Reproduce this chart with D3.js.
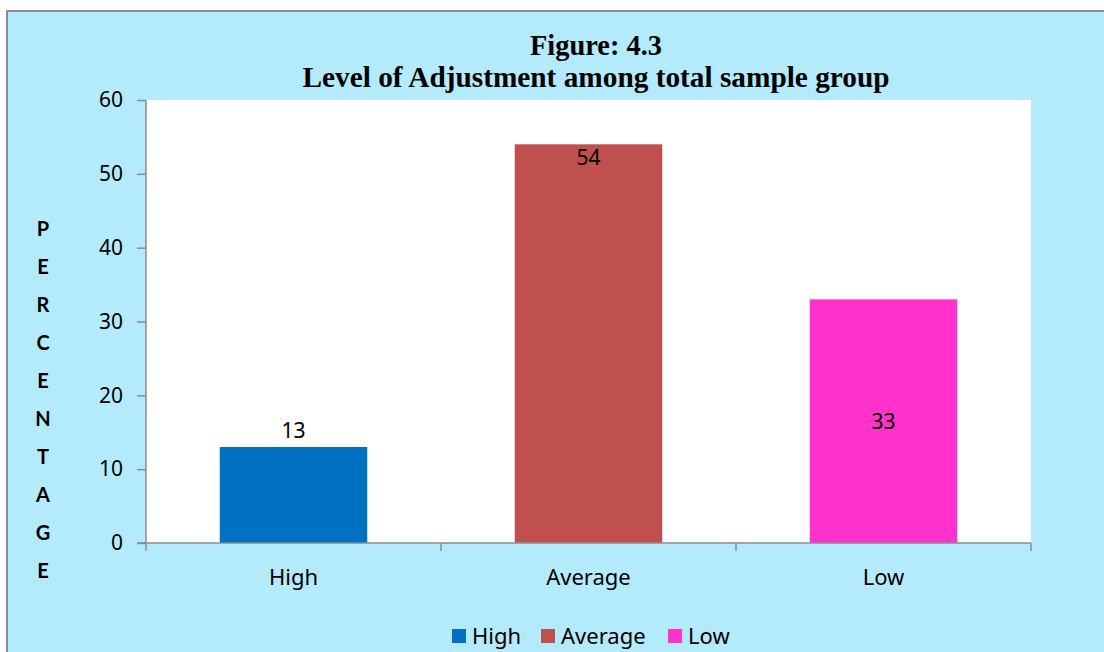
<!DOCTYPE html>
<meta charset="utf-8">
<script src="https://d3js.org/d3.v7.min.js"></script>
<style>
  body { margin: 0; background: #fff; }
  text { fill: #000; }
</style>
<svg id="chart" width="1104" height="652"></svg>
<script>

// Data
var categories = ["High", "Average", "Low"];
var values = [13, 54, 33];
var colors = ["#0070C0", "#C0504D", "#FF33CC"];
var yTicks = [0, 10, 20, 30, 40, 50, 60];
var titleLines = ["Figure: 4.3", "Level of Adjustment among total sample group"];
var yTitle = "PERCENTAGE";

var font = "'Noto Sans', Lato, sans-serif";
var svg = d3.select("#chart");

// Outer chart box
svg.append("rect")
    .attr("x", 7).attr("y", 11)
    .attr("width", 1110).attr("height", 660)
    .attr("fill", "#B4EBFC")
    .attr("stroke", "#8c8c8c")
    .attr("stroke-width", 2);

// Plot area
var margin = {left: 146, top: 100, right: 1031, bottom: 543};

svg.append("rect")
    .attr("x", margin.left).attr("y", margin.top)
    .attr("width", margin.right - margin.left)
    .attr("height", margin.bottom - margin.top)
    .attr("fill", "#fff");

var x = d3.scaleBand()
    .domain(categories)
    .range([margin.left, margin.right])
    .paddingInner(0.5)
    .paddingOuter(0.25);

var xCat = d3.scaleBand()
    .domain(categories)
    .range([margin.left, margin.right]);

var y = d3.scaleLinear()
    .domain([0, 60])
    .range([margin.bottom, margin.top]);

// Bars
svg.append("g")
  .selectAll("rect")
  .data(values)
  .enter()
  .append("rect")
    .attr("x", function(d, i){ return x(categories[i]) })
    .attr("y", function(d){ return y(d) })
    .attr("width", x.bandwidth())
    .attr("height", function(d){ return y(0) - y(d) })
    .attr("fill", function(d, i){ return colors[i] });

// Data labels: outside end, inside end, centre (as in the original)
var labelY = [
  function(d){ return y(d) - 9 },
  function(d){ return y(d) + 21 },
  function(d){ return (y(d) + y(0)) / 2 + 8 }
];
svg.append("g")
  .selectAll("text")
  .data(values)
  .enter()
  .append("text")
    .attr("x", function(d, i){ return x(categories[i]) + x.bandwidth() / 2 })
    .attr("y", function(d, i){ return labelY[i](d) })
    .attr("text-anchor", "middle")
    .style("font-family", font)
    .style("font-size", "21px")
    .text(function(d){ return d });

// Y axis
var yAxis = svg.append("g")
    .attr("transform", "translate(" + margin.left + ",0)")
    .call(d3.axisLeft(y).tickValues(yTicks).tickSize(9).tickPadding(14));
yAxis.select(".domain").remove();
yAxis.append("line")
    .attr("x1", 0).attr("x2", 0)
    .attr("y1", margin.top).attr("y2", margin.bottom + 8);
yAxis.selectAll("line").attr("stroke", "#8c8c8c").attr("stroke-width", 1.5);
yAxis.selectAll("text")
    .style("font-family", font)
    .style("font-size", "21px")
    .attr("fill", "#000");

// X axis
var xAxis = svg.append("g")
    .attr("transform", "translate(0," + margin.bottom + ")");
xAxis.append("line")
    .attr("x1", margin.left - 9).attr("x2", margin.right)
    .attr("y1", 0).attr("y2", 0);
xAxis.selectAll("tick")
  .data(categories)
  .enter()
  .append("line")
    .attr("x1", function(d){ return xCat(d) + xCat.bandwidth() })
    .attr("x2", function(d){ return xCat(d) + xCat.bandwidth() })
    .attr("y1", 0).attr("y2", 8);
xAxis.selectAll("line").attr("stroke", "#8c8c8c").attr("stroke-width", 1.5);
xAxis.selectAll("text")
  .data(categories)
  .enter()
  .append("text")
    .attr("x", function(d){ return xCat(d) + xCat.bandwidth() / 2 })
    .attr("y", 42)
    .attr("text-anchor", "middle")
    .style("font-family", font)
    .style("font-size", "22px")
    .text(function(d){ return d });

// Vertical y title, one letter per line
svg.append("g")
  .selectAll("text")
  .data(yTitle.split(""))
  .enter()
  .append("text")
    .attr("x", 43)
    .attr("y", function(d, i){ return 236 + i * 38 })
    .attr("text-anchor", "middle")
    .style("font-family", "Lato, sans-serif")
    .style("font-weight", "bold")
    .style("font-size", "20px")
    .text(function(d){ return d });

// Title
svg.append("g")
  .selectAll("text")
  .data(titleLines)
  .enter()
  .append("text")
    .attr("x", 596)
    .attr("y", function(d, i){ return 55 + i * 32 })
    .attr("text-anchor", "middle")
    .attr("textLength", function(d, i){ return i == 0 ? 132 : 587 })
    .attr("lengthAdjust", "spacingAndGlyphs")
    .style("font-family", "'Liberation Serif', 'Times New Roman', serif")
    .style("font-weight", "bold")
    .style("font-size", "30px")
    .text(function(d){ return d });

// Legend
var legendX = [452, 541, 668];
var legend = svg.append("g")
  .selectAll("g")
  .data(categories)
  .enter()
  .append("g")
    .attr("transform", function(d, i){ return "translate(" + legendX[i] + ",629)" });
legend.append("rect")
    .attr("width", 14).attr("height", 14)
    .attr("fill", function(d, i){ return colors[i] });
legend.append("text")
    .attr("x", 20).attr("y", 15)
    .style("font-family", font)
    .style("font-size", "22px")
    .text(function(d){ return d });

</script>
